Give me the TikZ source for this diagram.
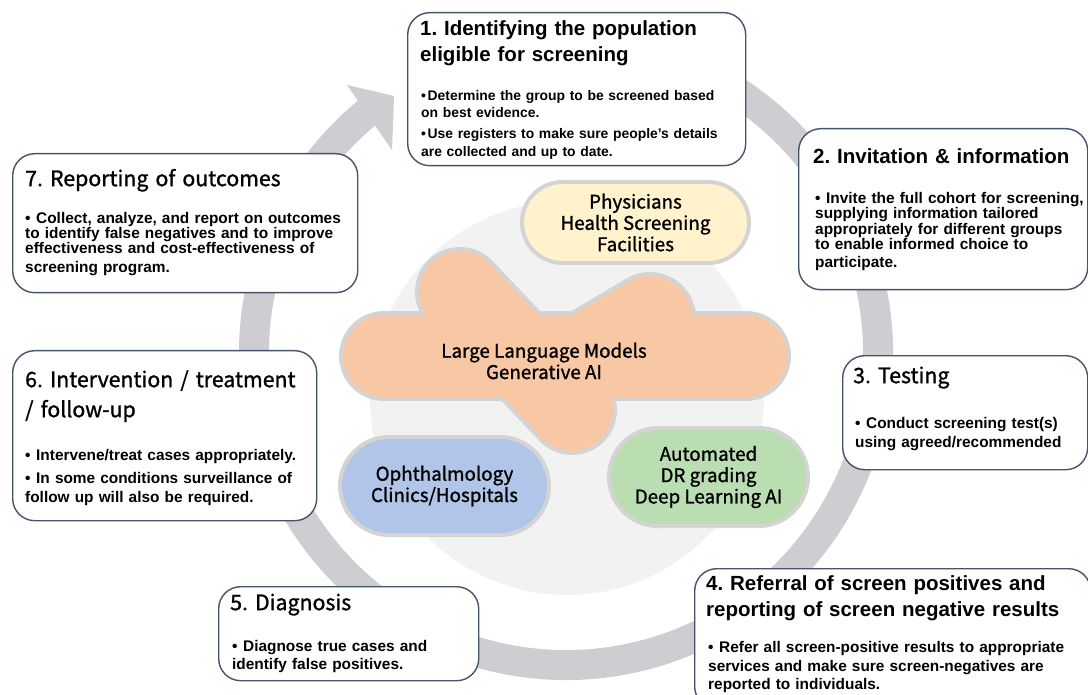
\documentclass[tikz,border=0pt]{standalone}
\usepackage{fontspec}
\usetikzlibrary{shapes.misc}
\newfontfamily\arialf{Liberation Sans}
\newfontfamily\jpf{Noto Sans CJK JP}[FakeBold=1.2]
\frenchspacing

\definecolor{ringgray}{HTML}{CDCDD2}
\definecolor{discgray}{HTML}{F2F2F2}
\definecolor{boxline}{HTML}{44546A}
\definecolor{pilledge}{HTML}{D4D4D4}
\definecolor{yellowfill}{HTML}{FFF2CC}
\definecolor{cloudfill}{HTML}{F8C8A4}
\definecolor{bluefill}{HTML}{B0C5E8}
\definecolor{greenfill}{HTML}{BADDB2}

% fixed first-line height, so a node's top sits .9em above its first baseline
\newcommand{\lead}{\vrule height .9em depth 0pt width 0pt}
% bullet with hanging indent
\newlength\bw
\setlength\bw{11pt}
\newcommand{\itm}{\par\hangindent=\bw\hangafter=1\noindent\lead\hbox to\bw{\textbullet\hfil}\ignorespaces}

\tikzset{
  stage/.style={draw=boxline, line width=1.4, fill=white, rounded corners=22, anchor=north west, inner sep=0},
  heada/.style={anchor=north west, inner sep=0, text width=420, align=left, font=\arialf\bfseries\fontsize{20.5}{26}\selectfont},
  headb/.style={anchor=north west, inner sep=0, text width=420, align=left, font=\jpf\fontsize{21.3}{30}\selectfont},
  note/.style 2 args={anchor=north west, inner sep=0, text width=420, align=left, font=\arialf\bfseries\fontsize{#1}{#2}\selectfont},
  pill/.style={rounded rectangle, draw=pilledge, line width=4, inner sep=0, align=center, font=\jpf\fontsize{18.8}{21.3}\selectfont}
}

\begin{document}
\begin{tikzpicture}[x=1pt, y=-1pt]
\useasboundingbox (0,0) rectangle (1088,695);

%disc behind the centre
\fill[discgray] (567,398) circle[radius=197];

%cycle arrow
\draw[ringgray, line width=30] (566,353) ++(-110:312) arc[start angle=-110, end angle=232, radius=312];
\fill[ringgray] (347,85) -- (394,96) -- (392,150) -- cycle;

%stage boxes
\node[stage, minimum width=338, minimum height=153] (s1) at (407,12) {};
\node[stage, minimum width=289, minimum height=161] (s2) at (798,128) {};
\node[stage, minimum width=245, minimum height=114] (s3) at (842,355) {};
\node[stage, minimum width=396, minimum height=140] (s4) at (694,568) {};
\node[stage, minimum width=260, minimum height=94] (s5) at (218,586) {};
\node[stage, minimum width=304, minimum height=170] (s6) at (12,350) {};
\node[stage, minimum width=345, minimum height=139] (s7) at (12,153) {};

%titles (top = baseline - .9em)
\node[heada] (t1) at (420,16.5) {\lead 1. Identifying the population\\eligible for screening};
\node[heada] (t2) at (813,144.5) {\lead 2. Invitation \& information};
\node[headb] (t3) at (853,363.8) {\lead 3. Testing};
\node[heada] (t4) at (706,571.5) {\lead 4. Referral of screen positives and\\reporting of screen negative results};
\node[headb] (t5) at (230,590.8) {\lead 5. Diagnosis};
\node[headb] (t6) at (25,367.8) {\lead 6. Intervention / treatment\\/ follow-up};
\node[headb] (t7) at (25,166.8) {\lead 7. Reporting of outcomes};

%bullet text
\node[note={13.9}{17.5}] (n1) at (421,82.5)
  {\setlength\bw{6.5pt}\itm Determine the group to be screened based\\on best evidence.\par\vspace{3.5pt}\itm Use registers to make sure people’s details\\are collected and up to date.};
\node[note={15.4}{13.4}] (n2) at (815,188.1)
  {\itm Invite the full cohort for screening,\\supplying information tailored\\appropriately for different groups\\to enable informed choice to\\[4.5pt]participate.};
\node[note={15.4}{19}] (n3) at (855,409.1)
  {\itm Conduct screening test(s)\\using agreed/recommended};
\node[note={15.4}{18.5}] (n4) at (708,634.1)
  {\itm Refer all screen-positive results to appropriate\\services and make sure screen-negatives are\\reported to individuals.};
\node[note={15.4}{18}] (n5) at (232,633.1)
  {\itm Diagnose true cases and\\identify false positives.};
\node[note={15.4}{19}] (n6) at (25,441.1)
  {\itm Intervene/treat cases appropriately.\par\vspace{4pt}\itm In some conditions surveillance of\\follow up will also be required.};
\node[note={15.4}{15}] (n7) at (25,208.1)
  {\itm Collect, analyze, and report on outcomes\\to identify false negatives and to improve\\effectiveness and cost-effectiveness of\\[4pt]screening program.};

%centre: partners and AI
\node[pill, fill=yellowfill, minimum width=227, minimum height=81] (phys) at (635.5,222.5) {Physicians\\Health Screening\\Facilities};

%cloud: edge pass, then fill pass
\coordinate (h1) at (384,356);
\coordinate (h2) at (746,356);
\coordinate (a1) at (460,292);
\coordinate (a2) at (572,410);
\coordinate (b1) at (650,318);
\coordinate (b2) at (564,369);
\foreach \p/\q/\w in {h1/h2/82, a1/a2/82, b1/b2/84}
  \draw[pilledge, line width=\w+8, line cap=round] (\p) -- (\q);
\foreach \p/\q/\w in {h1/h2/82, a1/a2/82, b1/b2/84}
  \draw[cloudfill, line width=\w, line cap=round] (\p) -- (\q);
\node[align=center, font=\jpf\fontsize{18.8}{21.3}\selectfont] (llm) at (544,361) {Large Language Models\\Generative AI};

\node[pill, fill=bluefill, minimum width=209, minimum height=98] (eye) at (444.5,486) {Ophthalmology\\Clinics/Hospitals};
\node[pill, fill=greenfill, minimum width=199, minimum height=98] (dr) at (708.5,477) {Automated\\DR grading\\Deep Learning AI};

\end{tikzpicture}
\end{document}
